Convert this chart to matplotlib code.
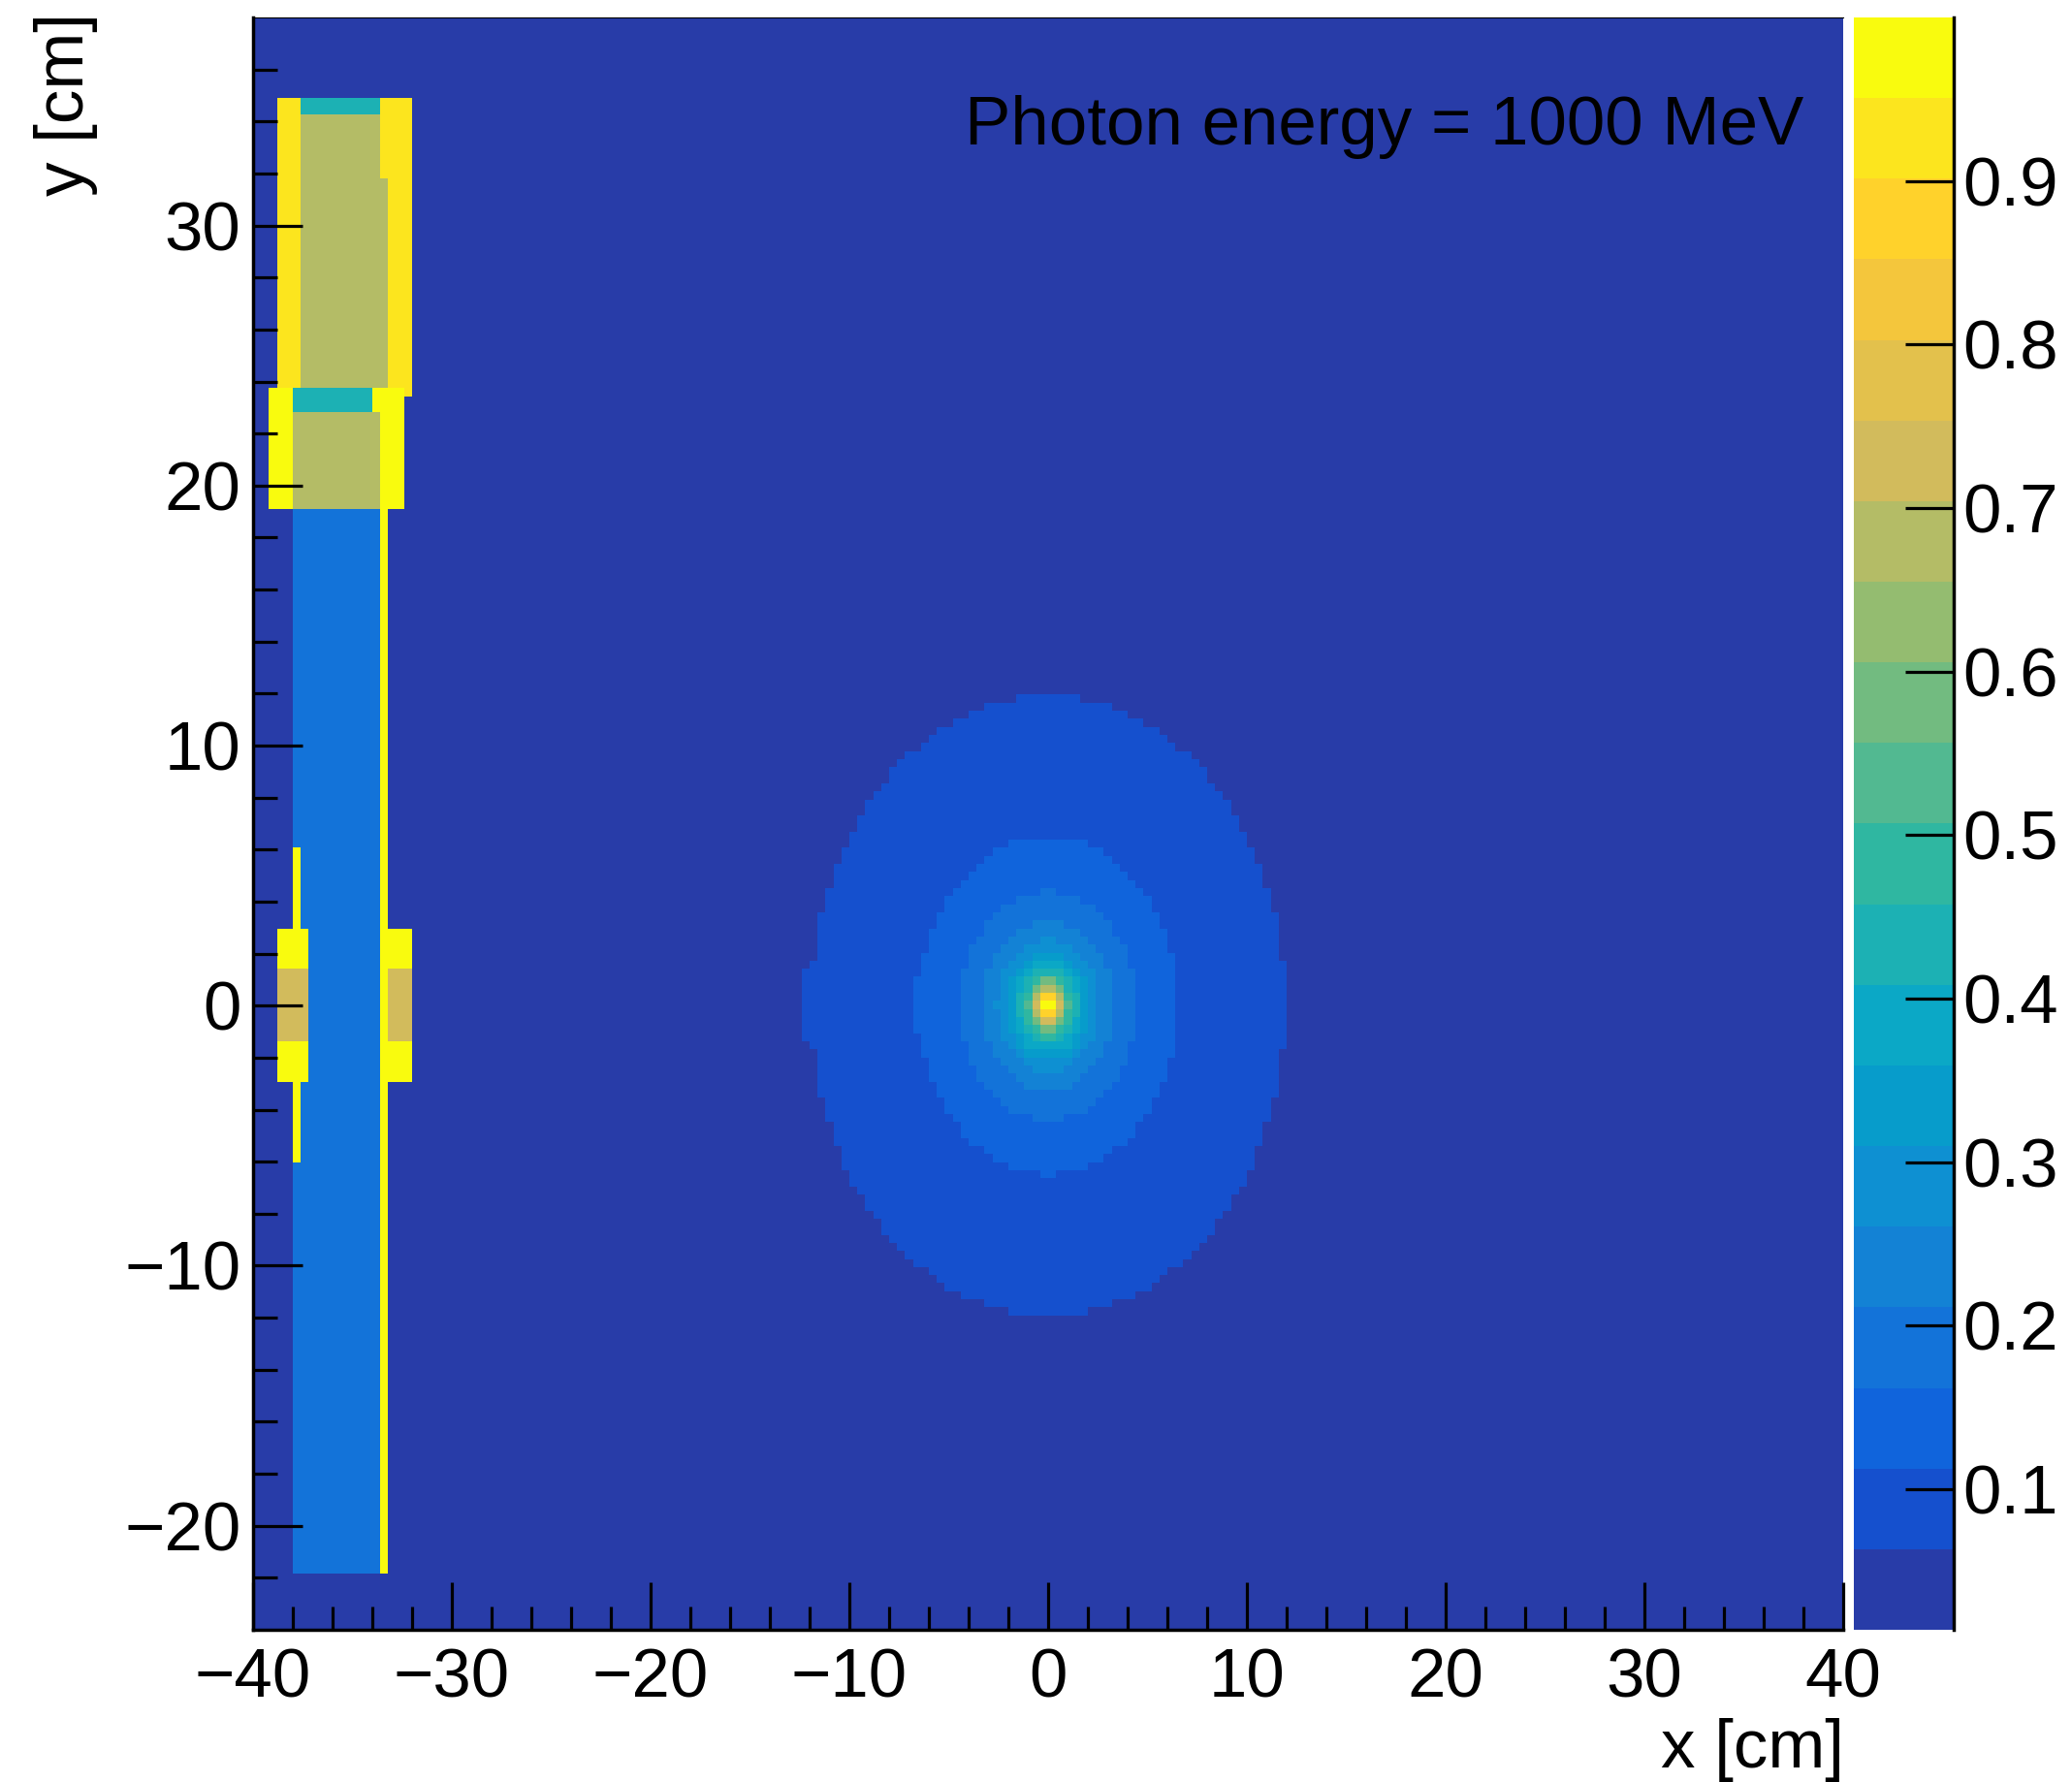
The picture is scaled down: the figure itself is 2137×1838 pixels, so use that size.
import numpy as np
import matplotlib
matplotlib.use('Agg')
import matplotlib.pyplot as plt
from matplotlib.colors import ListedColormap, BoundaryNorm

plt.rcParams['font.family'] = ['Liberation Sans', 'DejaVu Sans']

# colour palette of the histogram, bottom to top
level_colors = ['#283CA8', '#1550CE', '#1064DC', '#1373D9', '#1382D5', '#0E90D2', '#079CCB',
                '#0BA8C6', '#1CB1B4', '#2FB7A1', '#52B991', '#72BB80', '#94BC70', '#B4BC66',
                '#D2BB5C', '#E3C14C', '#F4C63C', '#FFD22B', '#FCE51E', '#F9FB0E']
z_min = 0.014
z_max = 1.0
cbar_ticks = [0.1, 0.2, 0.3, 0.4, 0.5, 0.6, 0.7, 0.8, 0.9]

# histogram binning
n_bins = 200
x_range = (-40, 40)
y_range = (-24, 38)
center_col = 100
center_row = 77

# beam spot: half width in bins of each contour, row by row from top_row down
ring_tops = {1: 38, 2: 20, 3: 14, 4: 10, 5: 8, 6: 6, 7: 5, 8: 4, 9: 3, 10: 1, 11: 3, 13: 2, 14: 0, 17: 1, 19: 0}
ring_widths = {
    1: [4, 8, 10, 12, 14, 15, 16, 18, 19, 20, 20, 21, 22, 23, 23, 24, 24, 25, 25, 26, 26, 27, 27, 27,
        28, 28, 28, 29, 29, 29, 29, 29, 29, 30, 30, 30, 30, 30, 30, 30, 30, 30, 30, 30,
        29, 29, 29, 29, 29, 29, 28, 28, 28, 27, 27, 27, 26, 26, 26, 25, 25, 24, 23, 23,
        22, 21, 21, 20, 19, 18, 17, 15, 14, 13, 11, 8, 5],
    2: [5, 7, 8, 9, 10, 11, 12, 13, 13, 14, 14, 15, 15, 15, 16, 16, 16, 16, 16, 16, 16, 16, 16, 16,
        16, 16, 16, 15, 15, 15, 14, 14, 13, 13, 12, 11, 11, 10, 8, 7, 5, 1],
    3: [1, 4, 6, 7, 8, 8, 9, 10, 10, 10, 11, 11, 11, 11, 11, 11, 11, 11, 11, 10, 10, 10, 9, 9, 8, 7, 6, 5, 2],
    4: [2, 4, 5, 6, 7, 7, 8, 8, 8, 8, 8, 8, 8, 8, 8, 7, 7, 6, 5, 4, 3],
    5: [1, 3, 4, 5, 6, 6, 6, 6, 6, 6, 6, 6, 6, 5, 4, 3, 2],
    6: [2, 3, 4, 5, 5, 5, 5, 5, 5, 5, 4, 4, 3],
    7: [2, 3, 4, 4, 4, 4, 4, 4, 4, 3, 3],
    8: [2, 3, 3, 4, 4, 4, 3, 3, 2],
    9: [2, 2, 3, 3, 3, 3, 2, 1],
    10: [2, 3, 2, 2, 1],
    11: [1, 2, 2, 2, 2, 2, 1],
    13: [1, 2, 2, 2, 1],
    14: [2, 1, 1],
    17: [1, 1, 1],
    19: [1],
}
# single bins off the symmetric contours: (row offset, column offset, level)
extra_cells = [(4, -31, 1), (3, -31, 1), (2, -31, 1), (1, -31, 1), (0, -31, 1), (-1, -31, 1), (-2, -31, 1),
               (-3, -31, 1), (-4, -31, 1),
               (3, -17, 2), (2, -17, 2), (1, -17, 2), (0, -17, 2), (-1, -17, 2), (-2, -17, 2), (-3, -17, 2),
               (0, -7, 5)]

# detector blocks on the left, painted in order: col_from, col_to, row_from, row_to, level
block_col0 = [3, 17, 6, 6, 16, 2, 16, 15, 5, 5, 5, 16, 5, 3, 17, 3, 17]
block_col1 = [6, 20, 17, 16, 17, 5, 19, 16, 16, 15, 16, 17, 6, 7, 20, 7, 20]
block_row0 = [153, 153, 153, 188, 180, 139, 139, 151, 139, 151, 7, 7, 58, 68, 68, 73, 73]
block_row1 = [190, 190, 188, 190, 190, 154, 154, 154, 151, 154, 139, 139, 97, 87, 87, 82, 82]
block_level = [18, 18, 13, 8, 18, 19, 19, 19, 13, 8, 3, 19, 19, 19, 19, 14, 14]

photon_label = 'Photon energy = 1000 MeV'

# build the level grid
grid = np.zeros((n_bins, n_bins), dtype=int)
for level in sorted(ring_tops):
    for i, hw in enumerate(ring_widths[level]):
        row = center_row + ring_tops[level] - i
        grid[row, center_col - hw:center_col + hw] = level
for k, c, level in extra_cells:
    grid[center_row + k, center_col + c] = level

# upper blocks overlap, so later entries win
for i in range(len(block_level)):
    grid[block_row0[i]:block_row1[i], block_col0[i]:block_col1[i]] = block_level[i]

step = (z_max - z_min) / len(level_colors)
boundaries = z_min + step * np.arange(len(level_colors) + 1)
values = boundaries[grid] + step / 2
x_edges = np.linspace(x_range[0], x_range[1], n_bins + 1)
y_edges = np.linspace(y_range[0], y_range[1], n_bins + 1)

W, H = 2137, 1838
fig = plt.figure(figsize=(W / 100, H / 100), dpi=100)
ax = fig.add_axes([261 / W, 1 - 1681 / H, 1640 / W, 1663 / H])
cax = fig.add_axes([1912 / W, 1 - 1681 / H, 103 / W, 1663 / H])

cmap = ListedColormap(level_colors)
norm = BoundaryNorm(boundaries, cmap.N)
mesh = ax.pcolormesh(x_edges, y_edges, values, cmap=cmap, norm=norm, shading='flat')

ax.set_xlim(x_range)
ax.set_ylim(y_range)
ax.set_xticks(np.arange(-40, 41, 10))
ax.set_xticks(np.arange(-40, 41, 2), minor=True)
ax.set_yticks(np.arange(-20, 31, 10))
ax.set_yticks(np.arange(-22, 38, 2), minor=True)
ax.tick_params(axis='x', which='major', direction='in', length=35, width=2.3, labelsize=51, pad=13)
ax.tick_params(axis='x', which='minor', direction='in', length=17, width=2.3)
ax.tick_params(axis='y', which='major', direction='in', length=37, width=2.3, labelsize=51, pad=9)
ax.tick_params(axis='y', which='minor', direction='in', length=18, width=2.3)
ax.spines['left'].set_linewidth(2.5)
ax.spines['bottom'].set_linewidth(2.5)
ax.spines['top'].set_linewidth(0.8)
ax.spines['right'].set_visible(False)

ax.text(0.975, 0.952, photon_label, transform=ax.transAxes, ha='right', va='top', fontsize=51, color='black')

fig.text(1902 / W, 1 - 1823 / H, 'x [cm]', ha='right', va='baseline', fontsize=51)
fig.text(35 / W, 1 - 13 / H, 'y [cm]', ha='right', va='top', rotation=90, fontsize=51,
         rotation_mode='anchor')

cb = fig.colorbar(mesh, cax=cax, ticks=cbar_ticks, format='%.1f', spacing='proportional')
cb.minorticks_off()
cb.outline.set_visible(False)
cax.spines['right'].set_visible(True)
cax.spines['right'].set_linewidth(2.5)
cax.yaxis.set_ticks_position('right')
cax.tick_params(axis='y', direction='in', length=36, width=2.3, labelsize=51, pad=7)

fig.savefig('out.png', dpi=100)
